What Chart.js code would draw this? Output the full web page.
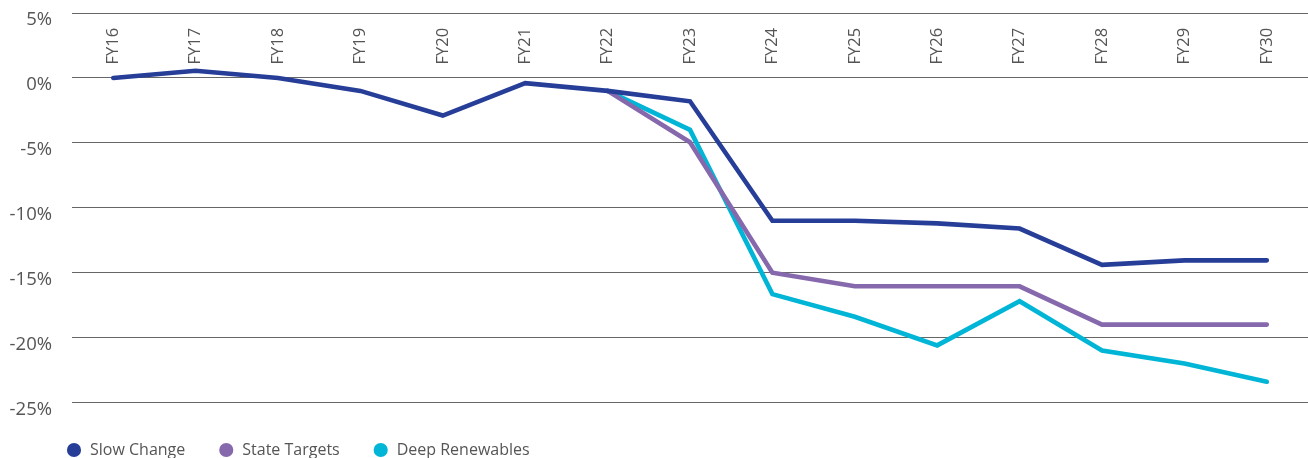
<!DOCTYPE html>
<html>
<head>
<meta charset="utf-8">
<script src="https://cdn.jsdelivr.net/npm/chart.js@4/dist/chart.umd.min.js"></script>
<style>
  html, body { margin: 0; padding: 0; background: #ffffff; }
  #wrap { position: relative; width: 1308px; height: 458px; }
</style>
</head>
<body>
<div id="wrap"><canvas id="c" width="1308" height="458"></canvas></div>
<script>
const categories = ['FY16','FY17','FY18','FY19','FY20','FY21','FY22','FY23','FY24','FY25','FY26','FY27','FY28','FY29','FY30'];
const slowChange = [0, 0.55, 0, -1.0, -2.9, -0.4, -1.0, -1.8, -11.0, -11.0, -11.2, -11.6, -14.4, -14.05, -14.05];
const stateTargets = [null, null, null, null, null, null, -1.0, -4.95, -15.0, -16.05, -16.05, -16.05, -19.0, -19.0, -19.0];
const deepRenewables = [null, null, null, null, null, null, -1.0, -4.0, -16.65, -18.4, -20.6, -17.2, -21.0, -22.0, -23.4];
const seriesNames = ['Slow Change', 'State Targets', 'Deep Renewables'];
const yTickValues = [5, 0, -5, -10, -15, -20, -25];

const colors = ['#263e97', '#8668ad', '#00b5d5'];
const FONT = 'Open Sans';
const Y_FONT_SIZE = 18.5;

// measure widest y label so the right-aligned labels end at a fixed x
const mctx = document.createElement('canvas').getContext('2d');
mctx.font = Y_FONT_SIZE + 'px "' + FONT + '"';
const widestY = Math.max(...yTickValues.map(v => mctx.measureText(v + '%').width));

new Chart(document.getElementById('c'), {
  type: 'line',
  data: {
    labels: categories,
    datasets: [slowChange, stateTargets, deepRenewables].map((d, i) => ({
      label: seriesNames[i],
      data: d,
      borderColor: colors[i],
      backgroundColor: colors[i],
      borderWidth: 4.6,
      borderCapStyle: 'round',
      pointRadius: 0,
      pointHoverRadius: 0,
      tension: 0,
      fill: false,
      spanGaps: false
    }))
  },
  options: {
    responsive: false,
    animation: false,
    devicePixelRatio: 1,
    layout: { padding: { left: 33, top: 13, right: 0, bottom: -10 } },
    plugins: {
      tooltip: { enabled: false },
      legend: {
        position: 'bottom',
        align: 'start',
        labels: {
          usePointStyle: true,
          pointStyle: 'circle',
          boxWidth: 16,
          boxHeight: 10,
          padding: 33,
          color: '#555555',
          font: { family: FONT, size: 16 },
          generateLabels: (chart) =>
            Chart.defaults.plugins.legend.labels.generateLabels(chart).map(l => Object.assign(l, { lineWidth: 0 }))
        }
      }
    },
    scales: {
      x: {
        position: { y: 0 },
        offset: true,
        grid: { display: false, drawTicks: false },
        border: { display: false },
        ticks: {
          minRotation: 90,
          maxRotation: 90,
          autoSkip: false,
          padding: -50,
          color: '#555555',
          font: { family: FONT, size: 16.5 }
        }
      },
      y: {
        min: -25.5,
        max: 5,
        afterFit: (s) => { s.width = 39; },
        afterBuildTicks: (s) => { s.ticks = yTickValues.map(v => ({ value: v })); },
        grid: { color: '#666666', lineWidth: 1, drawTicks: false },
        border: { display: false },
        ticks: {
          mirror: true,
          crossAlign: 'far',
          padding: 52 - 72 - widestY,
          labelOffset: 7,
          color: '#555555',
          font: { family: FONT, size: Y_FONT_SIZE },
          callback: (v) => v + '%'
        }
      }
    }
  }
});
</script>
</body>
</html>
